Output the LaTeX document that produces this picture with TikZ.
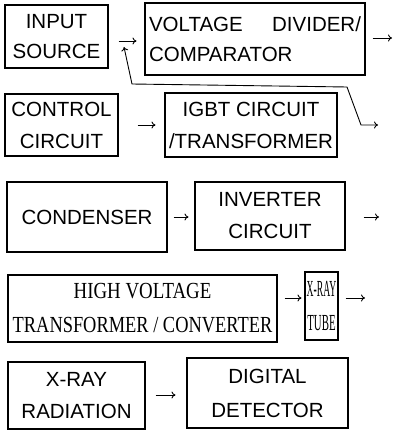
\documentclass[tikz,border=0pt]{standalone}
\usepackage{fontspec}
\setmainfont{Liberation Sans}
\newfontfamily\serifx{Liberation Serif}
\usepackage{graphicx}
\usetikzlibrary{arrows.meta}
\newcommand{\hsq}[2]{\scalebox{#1}[1]{#2}}
\tikzset{
  box/.style={draw, line width=1.1pt, inner sep=0pt, align=center,
    font=\fontsize{20.5}{32}\selectfont},
  serifbox/.style={box, font=\serifx\fontsize{23}{34}\selectfont},
  arr/.style={line width=0.9pt, -{To[length=4pt,width=7pt]}},
  arrboth/.style={line width=0.9pt, {To[length=4pt,width=7pt]}-{To[length=4pt,width=7pt]}},
}
\begin{document}
\begin{tikzpicture}[x=1pt,y=-1pt]
\useasboundingbox (0,0) rectangle (398,430);
% row 1
\node[box, minimum width=103pt, minimum height=63pt, font=\fontsize{20.5}{30}\selectfont] (input) at (56.5,36.5) {INPUT\\SOURCE};
\node[box, minimum width=220pt, minimum height=72pt, align=left, text width=212pt, font=\fontsize{20.5}{30}\selectfont] (volt) at (255,39)
  {\makebox[212pt][l]{VOLTAGE\hfill DIVIDER/}\\COMPARATOR};
% row 2
\node[box, minimum width=113pt, minimum height=62pt] (ctrl) at (61.5,125) {CONTROL\\CIRCUIT};
\node[box, minimum width=172pt, minimum height=64pt] (igbt) at (251,125) {IGBT CIRCUIT\\/TRANSFORMER};
% row 3
\node[box, minimum width=160pt, minimum height=70pt] (cond) at (87,217) {CONDENSER};
\node[box, minimum width=150pt, minimum height=68pt] (inv) at (270,216) {INVERTER\\CIRCUIT};
% row 4
\node[serifbox, minimum width=269pt, minimum height=67pt] (hv) at (142.5,308.5) {\hsq{0.82}{HIGH VOLTAGE}\\\hsq{0.8}{TRANSFORMER / CONVERTER}};
\node[serifbox, minimum width=33pt, minimum height=68pt] (tube) at (321.5,306) {\hsq{0.42}{X-RAY}\\\hsq{0.47}{TUBE}};
% row 5
\node[box, minimum width=137pt, minimum height=67pt] (rad) at (76.5,395.5) {X-RAY\\RADIATION};
\node[box, minimum width=161pt, minimum height=70pt, font=\fontsize{20.5}{34}\selectfont] (det) at (267.5,393) {DIGITAL\\DETECTOR};
% free ends
\coordinate (o1) at (392,38);
\coordinate (o2) at (379,217);
\coordinate (o3) at (365,298);
\coordinate (fbtop) at (124,47);
\coordinate (fb1) at (132,84);
\coordinate (fb2) at (347,87);
\coordinate (fb3) at (361,125);
\coordinate (fbend) at (378,125);
% arrows
\draw[arr] ([xshift=10pt,yshift=-4.5pt]input.east) -- ([xshift=-8pt,yshift=-2pt]volt.west);
\draw[arr] ([xshift=7pt,yshift=1pt]volt.east) -- (o1);
\draw[arr] ([xshift=19pt]ctrl.east) -- ([xshift=-9pt]igbt.west);
\draw[arrboth] (fbtop) -- (fb1) -- (fb2) -- (fb3) -- (fbend);
\draw[arr] ([xshift=6pt]cond.east) -- ([xshift=-6pt,yshift=-1pt]inv.west);
\draw[arr] ([xshift=18pt,yshift=-1pt]inv.east) -- (o2);
\draw[arr] ([xshift=7pt,yshift=10.5pt]hv.east) -- ([xshift=-3pt,yshift=8pt]tube.west);
\draw[arr] ([xshift=7pt,yshift=8pt]tube.east) -- (o3);
\draw[arr] ([xshift=10pt,yshift=0.5pt]rad.east) -- ([xshift=-11pt,yshift=-2pt]det.west);
\end{tikzpicture}
\end{document}
